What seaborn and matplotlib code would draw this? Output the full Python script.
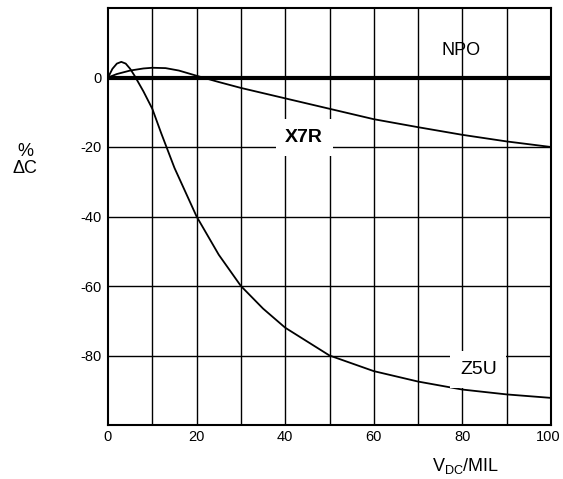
import matplotlib
matplotlib.use("Agg")
import matplotlib.pyplot as plt
import matplotlib.transforms as mtransforms
import seaborn as sns
import pandas as pd
import numpy as np

# Data
npo_x = [0, 100]
npo_y = [0, 0]

x7r_x = [0, 2, 5, 8, 10, 13, 16, 20, 25, 30, 40, 50, 60, 70, 80, 90, 100]
x7r_y = [0, 1.0, 2.0, 2.6, 2.8, 2.7, 2.0, 0.5, -1.3, -3.0, -6.0, -9.0, -12.0, -14.3, -16.5, -18.4, -20.0]

z5u_x = [0, 1, 2, 3, 4, 5, 6, 8, 10, 12, 15, 20, 25, 30, 35, 40, 50, 60, 70, 80, 90, 100]
z5u_y = [0, 2.5, 4.0, 4.5, 4.0, 2.5, 0.5, -4.0, -9.0, -16.0, -26.0, -40.0, -51.0, -60.0, -66.5, -72.0, -80.0, -84.5, -87.5, -89.8, -91.2, -92.2]

x_ticks = [0, 20, 40, 60, 80, 100]
y_ticks = [0, -20, -40, -60, -80]

sns.set_theme(style="white", rc={'text.color': 'black', 'xtick.color': 'black',
                                  'ytick.color': 'black', 'axes.labelcolor': 'black'})
plt.rcParams['font.family'] = ['Liberation Sans', 'DejaVu Sans']
plt.rcParams['mathtext.fontset'] = 'custom'
plt.rcParams['mathtext.rm'] = 'Liberation Sans'
plt.rcParams['axes.unicode_minus'] = False

fig = plt.figure(figsize=(5.63, 4.79), dpi=100)
ax = fig.add_axes([108/563, 1 - 425/479, 443/563, 417/479])

# grid
for gx in range(10, 100, 10):
    ax.axvline(gx, color='black', lw=1.0, zorder=1)
for gy in [-20, -40, -60, -80]:
    ax.axhline(gy, color='black', lw=1.0, zorder=1)

df_npo = pd.DataFrame({'x': npo_x, 'y': npo_y})
df_x7r = pd.DataFrame({'x': x7r_x, 'y': x7r_y})
df_z5u = pd.DataFrame({'x': z5u_x, 'y': z5u_y})

sns.lineplot(data=df_npo, x='x', y='y', ax=ax, color='black', lw=3.0, zorder=3)
sns.lineplot(data=df_x7r, x='x', y='y', ax=ax, color='black', lw=1.3, zorder=3)
sns.lineplot(data=df_z5u, x='x', y='y', ax=ax, color='black', lw=1.3, zorder=3)

ax.set_xlim(0, 100)
ax.set_ylim(-100, 20)
ax.set_xticks(x_ticks)
ax.set_yticks(y_ticks)
ax.set_xticklabels([str(t) for t in x_ticks], fontsize=10.5)
ax.set_yticklabels([str(t) for t in y_ticks], fontsize=10.5)
ax.tick_params(axis='y', length=0, pad=4.5)
ax.tick_params(axis='x', length=0, pad=3.5)
# nudge last x label so it stays inside the figure
last = ax.get_xticklabels()[-1]
last.set_transform(last.get_transform() + mtransforms.ScaledTranslation(-3/100, 0, fig.dpi_scale_trans))
ax.set_xlabel('')
ax.set_ylabel('')
for s in ax.spines.values():
    s.set_color('black')
    s.set_linewidth(1.5)

ax.text(79.6, 7.8, 'NPO', fontsize=13, ha='center', va='center', zorder=4)
ax.text(44.3, -17.3, 'X7R', fontsize=14, fontweight='bold', ha='center', va='center',
        bbox=dict(facecolor='white', edgecolor='none', pad=7), zorder=4)
ax.text(83.6, -84, 'Z5U', fontsize=14, ha='center', va='center',
        bbox=dict(facecolor='white', edgecolor='none', pad=7), zorder=4)

fig.text(25/563, 1 - 160/479, '%\nΔC', fontsize=13, ha='center', va='center', linespacing=1.05)
fig.text(466/563, 1 - 466/479, r'V$_\mathregular{DC}$/MIL', fontsize=13, ha='center', va='center')

fig.savefig('out.png', dpi=100, facecolor='white')
